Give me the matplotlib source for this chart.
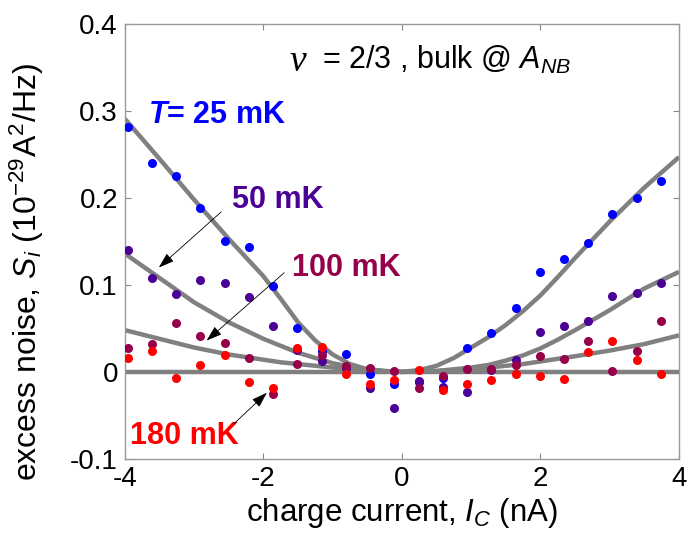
import matplotlib
matplotlib.use('Agg')
import matplotlib.pyplot as plt
import numpy as np

plt.rcParams['font.family'] = ['Liberation Sans', 'DejaVu Sans']
plt.rcParams['mathtext.fontset'] = 'custom'
plt.rcParams['mathtext.rm'] = 'Liberation Sans'
plt.rcParams['mathtext.it'] = 'Liberation Sans:italic'
plt.rcParams['mathtext.bf'] = 'Liberation Sans:bold'
plt.rcParams['mathtext.bfit'] = 'Liberation Sans:italic:bold'
plt.rcParams['axes.unicode_minus'] = False

#%% Data
current = [-3.96, -3.61, -3.26, -2.91, -2.56, -2.21, -1.86, -1.51, -1.16, -0.81, -0.46, -0.11,
           0.24, 0.59, 0.94, 1.29, 1.64, 1.99, 2.34, 2.69, 3.04, 3.39, 3.74]

noise_25 = [0.282, 0.240, 0.225, 0.189, 0.151, 0.144, 0.099, 0.051, 0.024, 0.021, -0.002, -0.014,
            -0.012, -0.007, 0.028, 0.045, 0.074, 0.115, 0.130, 0.148, 0.182, 0.200, 0.220]
noise_50 = [0.140, 0.108, 0.090, 0.106, 0.102, 0.086, 0.053, 0.025, 0.012, 0.004, -0.019, -0.042,
            -0.010, -0.017, -0.023, 0.002, 0.014, 0.046, 0.053, 0.058, 0.087, 0.091, 0.102]
noise_100 = [0.027, 0.032, 0.056, 0.041, 0.033, 0.016, -0.026, 0.009, 0.019, 0.007, 0.004, 0.001,
             -0.018, -0.005, 0.003, 0.003, 0.008, 0.018, 0.015, 0.036, 0.001, 0.024, 0.058]
noise_180 = [0.016, 0.024, -0.007, 0.008, 0.019, -0.012, -0.019, 0.027, 0.029, -0.003, -0.014, -0.009,
             0.002, -0.021, -0.014, -0.009, -0.003, -0.005, -0.008, 0.023, 0.036, 0.014, -0.003]

# fit curves
fit_x = [-4, -3.5, -3, -2.5, -2, -1.75, -1.5, -1.25, -1, -0.75, -0.5, -0.25, 0,
         0.25, 0.5, 0.75, 1, 1.25, 1.5, 1.75, 2, 2.25, 2.5, 3, 3.5, 4]
fit_25 = [0.291, 0.245, 0.198, 0.153, 0.110, 0.084, 0.057, 0.036, 0.020, 0.009, 0.003, 0.001, 0.0,
          0.002, 0.007, 0.016, 0.028, 0.040, 0.054, 0.070, 0.088, 0.109, 0.131, 0.173, 0.212, 0.247]
fit_50 = [0.136, 0.108, 0.080, 0.057, 0.038, 0.030, 0.022, 0.016, 0.010, 0.006, 0.003, 0.001, 0.0,
          0.0003, 0.001, 0.003, 0.005, 0.008, 0.013, 0.019, 0.027, 0.037, 0.048, 0.071, 0.096, 0.115]
fit_100 = [0.048, 0.038, 0.028, 0.020, 0.014, 0.011, 0.009, 0.007, 0.005, 0.0035, 0.002, 0.0005, 0.0,
           0.0003, 0.001, 0.002, 0.0035, 0.005, 0.007, 0.009, 0.012, 0.015, 0.018, 0.0245, 0.032, 0.042]
fit_180 = [0.0] * len(fit_x)

colors = ['#0000ff', '#4b0096', '#96004b', '#ff0000']

yticks = [-0.1, 0, 0.1, 0.2, 0.3, 0.4]
ytick_labels = ['-0.1', '0', '0.1', '0.2', '0.3', '0.4']
xticks = [-4, -2, 0, 2, 4]

#%% Plot
fig = plt.figure(figsize=(6.9, 5.36), dpi=100)
ax = fig.add_axes([0.181, 0.144, 0.803, 0.811])

for fit in [fit_25, fit_50, fit_100, fit_180]:
    ax.plot(fit_x, fit, color='#808080', lw=3.2, solid_capstyle='butt', solid_joinstyle='round', zorder=2)

for noise, c in zip([noise_25, noise_50, noise_100, noise_180], colors):
    ax.plot(current, noise, 'o', color=c, ms=6.5, mew=0, zorder=3)

ax.set_xlim(-4, 4)
ax.set_ylim(-0.1, 0.4)
ax.set_xticks(xticks)
ax.set_xticklabels([str(t) for t in xticks])
ax.set_yticks(yticks)
ax.set_yticklabels(ytick_labels)
ax.tick_params(direction='in', length=4, width=0.8, color='#888888', labelsize=20,
               top=True, right=True, pad=5)
for sp in ax.spines.values():
    sp.set_color('#999999')
    sp.set_linewidth(1.0)

ax.set_xlabel(r'charge current, $I_C$ (nA)', fontsize=22.5, labelpad=3)
ax.set_ylabel(r'excess noise, $S_i$ (10$^{-29}$A$^2$/Hz)', fontsize=23)
ax.yaxis.set_label_coords(-0.143, 0.43)

# labels
ax.text(-1.62, 0.357, 'ν', fontsize=27, family='Liberation Serif', style='italic', va='center')
ax.text(-1.16, 0.359, r'= 2/3 , bulk @ $A_{NB}$', fontsize=22, va='center')
ax.text(-3.67, 0.295, r'$\mathbfit{T}$= 25 mK', fontsize=22, fontweight='bold', color=colors[0], va='center')
ax.text(-2.45, 0.198, '50 mK', fontsize=22, fontweight='bold', color=colors[1], va='center')
ax.text(-1.59, 0.120, '100 mK', fontsize=22, fontweight='bold', color=colors[2], va='center')
ax.text(-3.93, -0.074, '180 mK', fontsize=22, fontweight='bold', color=colors[3], va='center')

arrow = dict(arrowstyle='-|>,head_length=0.6,head_width=0.2', color='k', lw=0.6,
             mutation_scale=16, shrinkA=0, shrinkB=0)
ax.annotate('', xy=(-3.51, 0.120), xytext=(-2.61, 0.184), arrowprops=arrow)
ax.annotate('', xy=(-2.82, 0.036), xytext=(-1.70, 0.114), arrowprops=arrow)
ax.annotate('', xy=(-1.95, -0.024), xytext=(-2.43, -0.060), arrowprops=arrow)

fig.savefig('out.png', dpi=100)
